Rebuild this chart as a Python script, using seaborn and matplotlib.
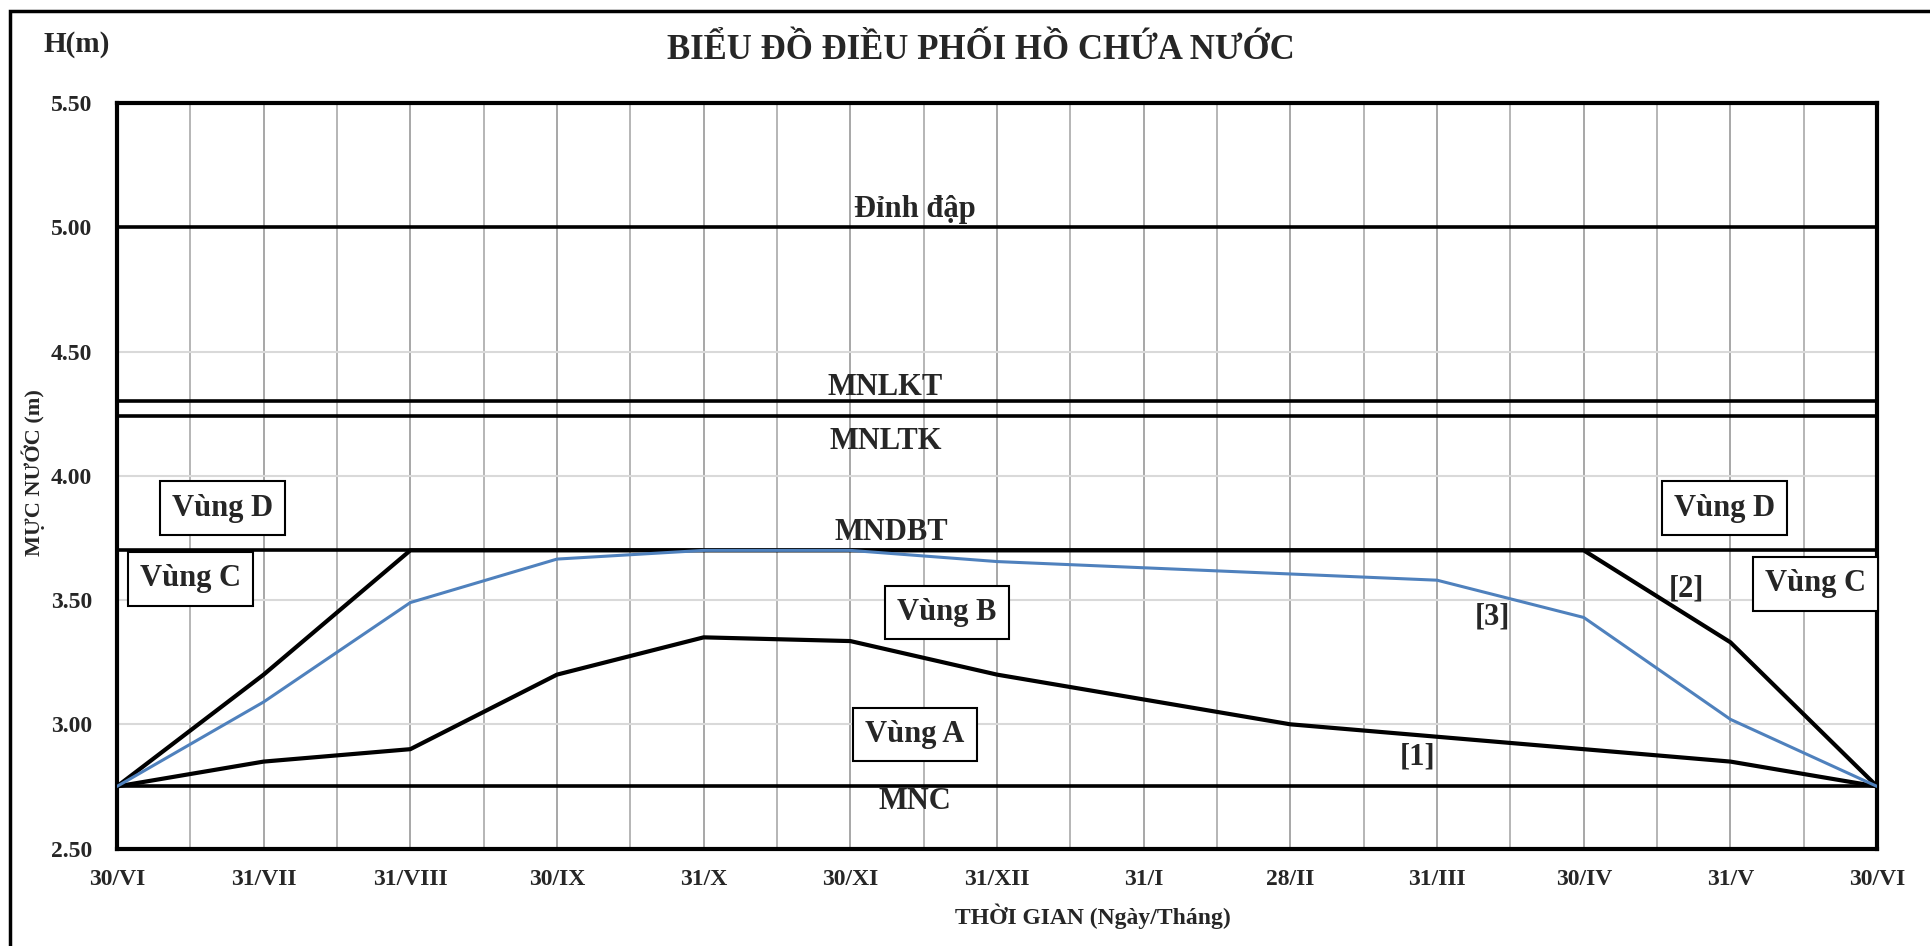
import matplotlib
matplotlib.use("Agg")
import matplotlib.pyplot as plt
import seaborn as sns
import pandas as pd
import numpy as np
from matplotlib.patches import Rectangle

# ---- data ----
month_labels = ["30/VI", "31/VII", "31/VIII", "30/IX", "31/X", "30/XI", "31/XII",
                "31/I", "28/II", "31/III", "30/IV", "31/V", "30/VI"]
line1_values = [2.75, 2.85, 2.90, 3.20, 3.35, 3.335, 3.20, 3.10, 3.00, 2.95, 2.90, 2.85, 2.75]
line2_values = [2.75, 3.20, 3.70, 3.70, 3.70, 3.70, 3.70, 3.70, 3.70, 3.70, 3.70, 3.33, 2.75]
line3_values = [2.75, 3.09, 3.49, 3.665, 3.70, 3.70, 3.655, 3.63, 3.605, 3.58, 3.43, 3.02, 2.75]
level_names = ["Đỉnh đập", "MNLKT", "MNLTK", "MNDBT", "MNC"]
level_values = [5.00, 4.30, 4.24, 3.70, 2.75]
y_ticks = [2.50, 3.00, 3.50, 4.00, 4.50, 5.00, 5.50]

sns.set_style("white")
plt.rcParams['font.family'] = ['Liberation Serif', 'DejaVu Serif']
plt.rcParams['font.weight'] = 'bold'

fig = plt.figure(figsize=(19.3, 9.46), dpi=100)
ax = fig.add_axes([0.0606, 0.103, 0.912, 0.788])

x = np.arange(len(month_labels))
df = pd.DataFrame({"x": x, "l1": line1_values, "l2": line2_values, "l3": line3_values})

# grid
for xv in np.arange(0, 12.01, 0.5):
    ax.axvline(xv, color="#b0b0b0" if xv % 1 else "#a0a0a0", lw=1.3, zorder=0)
for yv in y_ticks:
    ax.axhline(yv, color="#d9d9d9", lw=1.5, zorder=0)

# horizontal levels
for name, val in zip(level_names, level_values):
    ax.axhline(val, color="black", lw=2.6, zorder=2)

sns.lineplot(data=df, x="x", y="l2", color="black", lw=3, ax=ax, zorder=3)
sns.lineplot(data=df, x="x", y="l1", color="black", lw=3, ax=ax, zorder=3)
sns.lineplot(data=df, x="x", y="l3", color="#4f81bd", lw=2.2, ax=ax, zorder=4)

ax.set_xlim(0, 12)
ax.set_ylim(2.5, 5.5)
ax.set_xticks(x)
ax.set_xticklabels(month_labels)
ax.set_yticks(y_ticks)
ax.set_yticklabels([f"{v:.2f}" for v in y_ticks])
ax.tick_params(axis="both", length=0, labelsize=17, labelcolor="#262626")
ax.tick_params(axis="x", pad=15)
ax.tick_params(axis="y", pad=18)
for lab in ax.get_xticklabels() + ax.get_yticklabels():
    lab.set_fontweight("bold")
ax.set_xlabel("")
ax.set_ylabel("")
for sp in ax.spines.values():
    sp.set_visible(True)
    sp.set_color("black")
    sp.set_linewidth(3)

# level labels
tkw = dict(ha="center", va="center", fontsize=22, fontweight="bold", zorder=6)
ax.text(5.44, 5.07, "Đỉnh đập", **tkw)
ax.text(5.24, 4.355, "MNLKT", **tkw)
ax.text(5.24, 4.14, "MNLTK", **tkw)
ax.text(5.28, 3.77, "MNDBT", **tkw)
ax.text(5.44, 2.69, "MNC", **tkw)

box = dict(boxstyle="square,pad=0.4", fc="white", ec="black", lw=1.5)
ax.text(0.72, 3.87, "Vùng D", bbox=box, **tkw)
ax.text(0.50, 3.585, "Vùng C", bbox=box, **tkw)
ax.text(5.66, 3.45, "Vùng B", bbox=box, **tkw)
ax.text(5.44, 2.96, "Vùng A", bbox=box, **tkw)
ax.text(10.96, 3.87, "Vùng D", bbox=box, **tkw)
ax.text(11.58, 3.565, "Vùng C", bbox=box, **tkw)

ax.text(8.87, 2.87, "[1]", **tkw)
ax.text(9.38, 3.43, "[3]", **tkw)
ax.text(10.70, 3.545, "[2]", **tkw)

# figure texts
fig.text(0.508, 0.947, "BIỂU ĐỒ ĐIỀU PHỐI HỒ CHỨA NƯỚC", ha="center", va="center",
         fontsize=25, fontweight="bold")
fig.text(0.0395, 0.953, "H(m)", ha="center", va="center", fontsize=21, fontweight="bold")
fig.text(0.017, 0.50, "MỰC NƯỚC (m)", ha="center", va="center", rotation=90,
         fontsize=16, fontweight="bold")
fig.text(0.566, 0.031, "THỜI GIAN (Ngày/Tháng)", ha="center", va="center",
         fontsize=17, fontweight="bold")

fig.patches.append(Rectangle((0.005, -0.02), 1.1, 1.008, transform=fig.transFigure,
                             fill=False, ec="black", lw=2.5))

fig.savefig("out.png", dpi=100)
